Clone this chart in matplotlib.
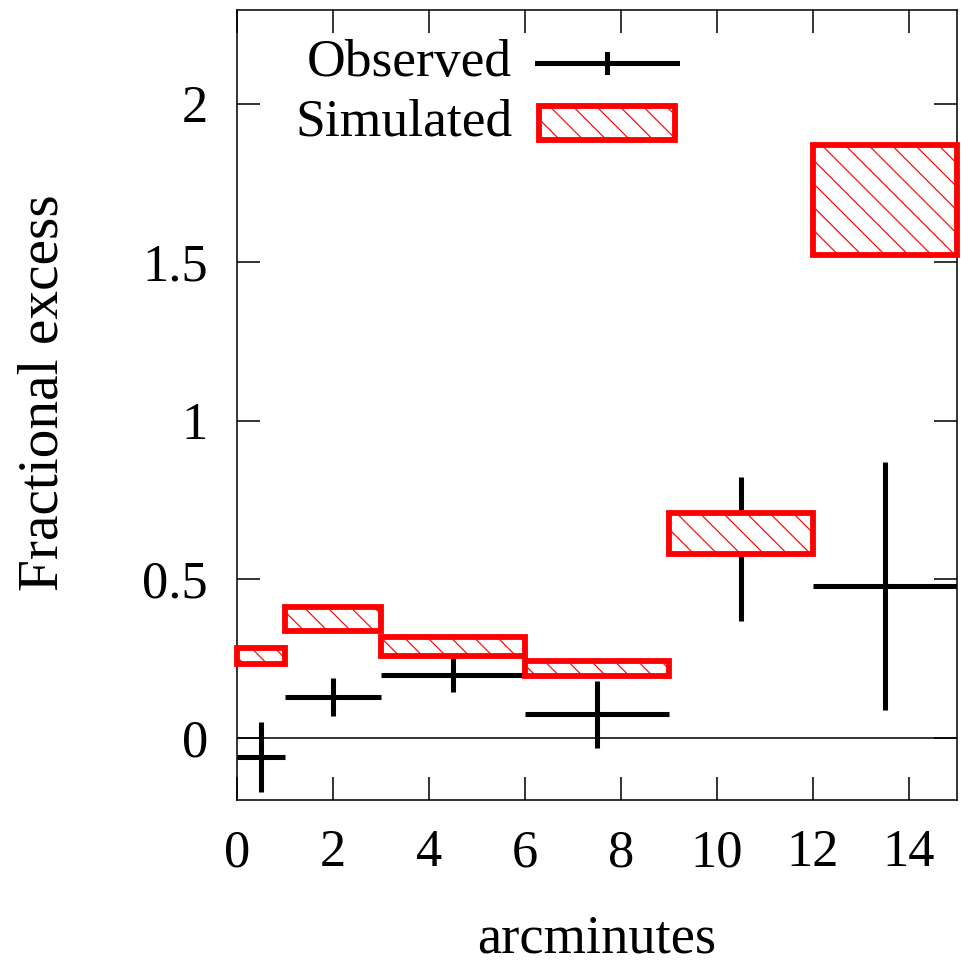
import matplotlib
matplotlib.use("Agg")
import matplotlib.pyplot as plt
from matplotlib.patches import Rectangle
from matplotlib.lines import Line2D
import numpy as np

# ---- data ----
bin_lo = [0, 1, 3, 6, 9, 12]
bin_hi = [1, 3, 6, 9, 12, 15]
obs_y = [-0.06, 0.13, 0.20, 0.075, 0.595, 0.48]
obs_err = [0.11, 0.06, 0.055, 0.105, 0.227, 0.39]
sim_lo = [0.235, 0.337, 0.258, 0.195, 0.58, 1.524]
sim_hi = [0.284, 0.412, 0.318, 0.243, 0.709, 1.871]
xticks = [0, 2, 4, 6, 8, 10, 12, 14]
yticks = [0, 0.5, 1, 1.5, 2]
ytick_labels = ["0", "0.5", "1", "1.5", "2"]

DPI = 140
plt.rcParams['font.family'] = ['Liberation Serif', 'DejaVu Serif']
plt.rcParams['hatch.linewidth'] = 0.6
plt.rcParams['font.size'] = 27

fig = plt.figure(figsize=(961 / DPI, 971 / DPI), dpi=DPI)
ax = fig.add_axes([237 / 961, 1 - 800 / 971, 720 / 961, 790 / 971])

lo = np.array(bin_lo, float)
hi = np.array(bin_hi, float)
xc = (lo + hi) / 2
xe = (hi - lo) / 2

ax.axhline(0, color='black', lw=0.8, zorder=1)

ax.errorbar(xc, obs_y, xerr=xe, yerr=obs_err, fmt='none', ecolor='black',
            elinewidth=2.6, capsize=0, zorder=2)

sl = np.array(sim_lo)
sh = np.array(sim_hi)
bars = ax.bar(lo, sh - sl, bottom=sl, width=hi - lo, align='edge',
              facecolor='white', edgecolor='#ff0000', linewidth=3.0,
              hatch='\\\\', zorder=3)
for b in bars:
    b.set_clip_on(False)

ax.set_xlim(0, 15)
ax.set_ylim(-0.195, 2.295)
ax.set_xticks(xticks)
ax.set_xticklabels([str(t) for t in xticks])
ax.set_yticks(yticks)
ax.set_yticklabels(ytick_labels)
ax.tick_params(direction='in', length=12, width=0.8, top=True, right=True,
               pad=15, labelsize=27)
for s in ax.spines.values():
    s.set_linewidth(0.8)

ax.set_xlabel('arcminutes', fontsize=28)
ax.xaxis.set_label_coords(0.5, -0.144)
ax.set_ylabel('Fractional excess', fontsize=29.5)
ax.yaxis.set_label_coords(-0.232, 0.516)

# ---- legend (manual) ----
T = ax.transAxes
ax.text(0.382, 0.933, 'Observed', transform=T, ha='right', va='center', fontsize=27.5)
ax.text(0.382, 0.858, 'Simulated', transform=T, ha='right', va='center', fontsize=27.5)
ax.add_line(Line2D([0.417, 0.611], [0.933, 0.933], transform=T, color='black', lw=2.6))
ax.add_line(Line2D([0.514, 0.514], [0.922, 0.944], transform=T, color='black', lw=2.6))
ax.add_patch(Rectangle((0.419, 0.836), 0.19, 0.042, transform=T, facecolor='white',
                       edgecolor='#ff0000', linewidth=3.0, hatch='\\\\', zorder=3))

fig.savefig('out.png', dpi=DPI)
